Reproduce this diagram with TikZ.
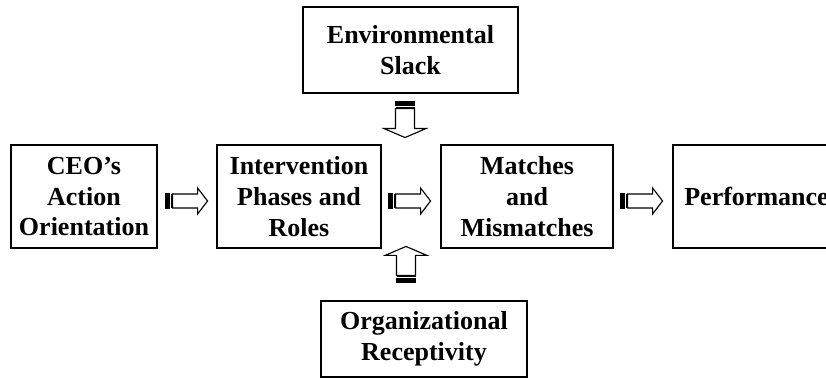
\documentclass[tikz,border=0pt]{standalone}
\usepackage{fontspec}
\setmainfont{Liberation Serif}
\usetikzlibrary{calc}

\tikzset{
	box/.style={draw, align=center, inner sep=0pt, font=\fontsize{18.5}{22}\selectfont\bfseries},
}

\begin{document}
\begin{tikzpicture}[line width=0.8pt]
			\path[use as bounding box, clip] (0, 0) rectangle (20.65, 9.45);

			\draw (2.1, 4.5375) 	node[box, minimum width=3.65cm, minimum height=2.575cm] 	(ceo) 		{CEO’s\\Action\\Orientation};
			\draw (7.475, 4.5375) 	node[box, minimum width=4.1cm, minimum height=2.575cm] 	(phases) 	{Intervention\\Phases and\\Roles};
			\draw (13.175, 4.5375) 	node[box, minimum width=4.3cm, minimum height=2.575cm] 	(matches) 	{Matches\\and\\Mismatches};
			\draw (18.9125, 4.5375) node[box, minimum width=4.175cm, minimum height=2.575cm] 	(perf) 		{Performance};
			\draw (10.2625, 8.2) 	node[box, minimum width=5.375cm, minimum height=2.15cm] 	(slack) 	{Environmental\\Slack};
			\draw (10.6, 0.975) 	node[box, minimum width=5.15cm, minimum height=1.9cm] 		(recept) 	{Organizational\\Receptivity};

			\coordinate (a1) at ([xshift=0.2cm, yshift=-0.1125cm]ceo.east);
			\coordinate (a2) at ([xshift=0.175cm, yshift=-0.1125cm]phases.east);
			\coordinate (a3) at ([xshift=0.175cm, yshift=-0.1125cm]matches.east);
			\coordinate (a4) at ([xshift=-0.1375cm, yshift=-0.2cm]slack.south);
			\coordinate (a5) at ([xshift=-0.45cm, yshift=0.45cm]recept.north);

			% striped block arrows: tail, turn, length, shaft and head half widths, head length
			\foreach \t/\r/\len/\w/\h/\hl in {a1/0/1.05/0.175/0.325/0.25, a2/0/1.05/0.175/0.325/0.25, a3/0/1.05/0.175/0.325/0.25, a4/-90/0.9/0.2375/0.525/0.225, a5/90/0.9/0.2375/0.525/0.225}
			{
				\begin{scope}[shift={(\t)}, rotate=\r]
					\filldraw (0, -\w) rectangle (0.1, \w);
					\draw (0.15, -\w) -- (0.15, \w);
					\draw (0.175, -\w) -- (\len-\hl, -\w) -- (\len-\hl, -\h) -- (\len, 0) -- (\len-\hl, \h) -- (\len-\hl, \w) -- (0.175, \w) -- cycle;
				\end{scope}
			}
		\end{tikzpicture}
\end{document}
